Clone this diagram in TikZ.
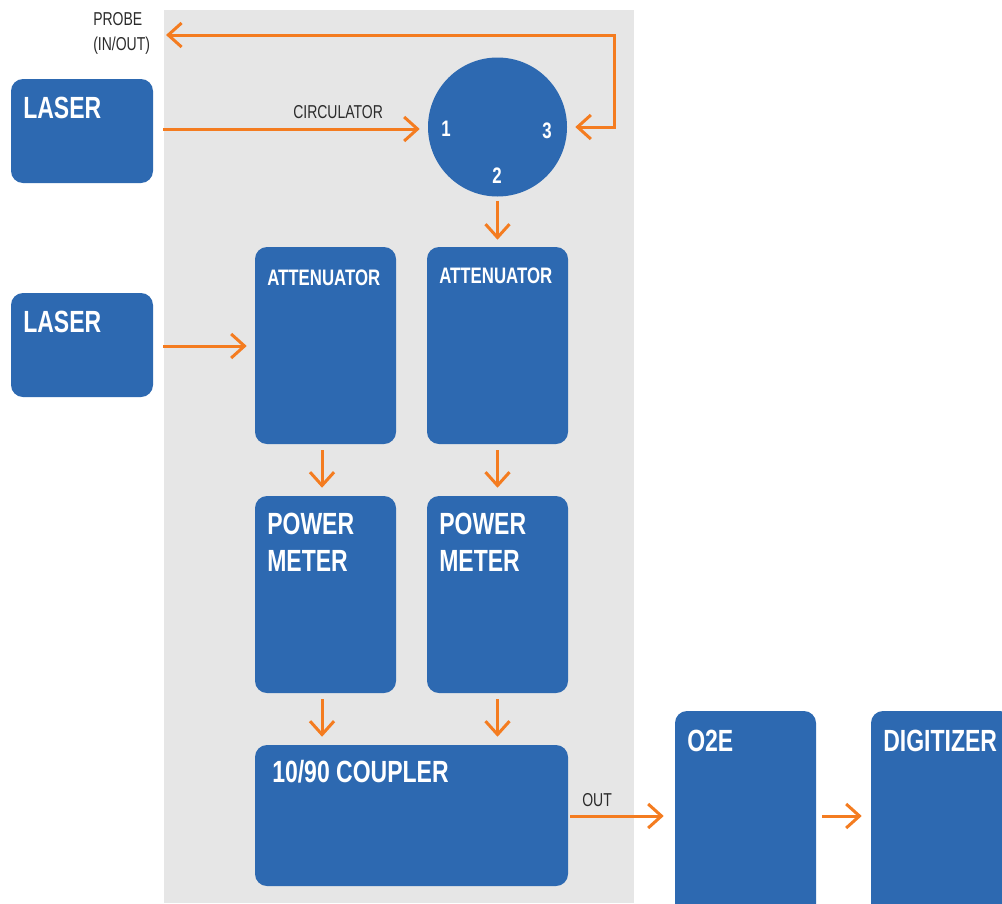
\documentclass[tikz,border=0pt]{standalone}
\usepackage{fontspec}
\setmainfont[FakeStretch=0.75]{Liberation Sans}
\usetikzlibrary{arrows.meta}
\definecolor{bblue}{HTML}{2D69B1}
\definecolor{borange}{HTML}{F47C20}
\definecolor{bgray}{HTML}{E6E6E6}
\definecolor{ltext}{HTML}{2B2B2B}
\tikzset{
  box/.style={fill=bblue, draw=none, rounded corners=9pt, inner sep=0pt, minimum width=105.75pt, minimum height=147.75pt},
  circbox/.style={circle, fill=bblue, draw=none, inner sep=0pt, minimum size=104.25pt},
  btxt/.style={anchor=base west, inner sep=0pt, text=white, font=\bfseries\fontsize{23}{27}\selectfont},
  stxt/.style={anchor=base west, inner sep=0pt, text=white, font=\bfseries\fontsize{16.8}{20}\selectfont},
  ltxt/.style={anchor=base west, inner sep=0pt, text=ltext, font=\fontsize{14}{17}\selectfont},
  arr/.style={draw=borange, line width=2.25pt, -{Straight Barb[length=10pt,width=18pt]}},
}
\begin{document}
\begin{tikzpicture}[x=0.75pt,y=-0.75pt]
\clip (0,0) rectangle (1002,903);
\fill[white] (0,0) rectangle (1002,903);
\fill[bgray] (164,10) rectangle (634,903);
% boxes
\node[box, minimum width=106.5pt, minimum height=78pt] (laser1) at (82,131) {};
\node[box, minimum width=106.5pt, minimum height=78pt] (laser2) at (82,345) {};
\node[circbox] (circ) at (497.5,127) {};
\node[box] (att1) at (325.5,345.5) {};
\node[box] (att2) at (497.5,345.5) {};
\node[box] (pm1) at (325.5,594.5) {};
\node[box] (pm2) at (497.5,594.5) {};
\node[box, minimum width=234.75pt, minimum height=105.75pt] (coup) at (411.5,815.5) {};
\node[box, minimum height=157.5pt] (o2e) at (745.5,816) {};
\node[box, minimum height=157.5pt] (dig) at (941.5,816) {};
% texts
\node[btxt] (tl1) at (23,118) {LASER};
\node[btxt] (tl2) at (23,332) {LASER};
\node[stxt] (ta1) at (267,285) {ATTENUATOR};
\node[stxt] (ta2) at (439,283) {ATTENUATOR};
\node[btxt] (tp1a) at (267,534) {POWER};
\node[btxt] (tp1b) at (267,571) {METER};
\node[btxt] (tp2a) at (439,534) {POWER};
\node[btxt] (tp2b) at (439,571) {METER};
\node[btxt] (tc) at (272,782) {10/90 COUPLER};
\node[btxt] (to) at (687,751) {O2E};
\node[btxt] (td) at (883,751) {DIGITIZER};
\node[stxt] (n1) at (441,136) {1};
\node[stxt] (n3) at (542,138) {3};
\node[stxt] (n2) at (492,183) {2};
\node[ltxt] (lp1) at (93,26) {PROBE};
\node[ltxt] (lp2) at (93,50) {(IN/OUT)};
\node[ltxt] (lc) at (293,118) {CIRCULATOR};
\node[ltxt] (lo) at (582,806) {OUT};
% connectors
\coordinate (probe) at (166,35);
\coordinate (pc) at (614,35);
\draw[arr, shorten <=7.5pt, shorten >=6pt] (laser1.east |- 0,129) -- (circ.west |- 0,129);
\draw[arr, {Straight Barb[length=10pt,width=18pt]}-{Straight Barb[length=10pt,width=18pt]}, shorten >=6pt] (probe) -- (pc) |- (circ.east);
\draw[arr, shorten <=3pt, shorten >=5.25pt] (circ.south) -- (att2.north);
\draw[arr, shorten <=7.5pt, shorten >=6pt] (laser2.east |- 0,346) -- (att1.west |- 0,346);
\draw[arr, shorten <=4.5pt, shorten >=6pt] ([xshift=-2.6pt]att1.south) -- ([xshift=-2.6pt]pm1.north);
\draw[arr, shorten <=4.5pt, shorten >=6pt] (att2.south) -- (pm2.north);
\draw[arr, shorten <=4.5pt, shorten >=6pt] ([xshift=-2.6pt]pm1.south) -- ([xshift=-2.6pt]pm1.south |- coup.north);
\draw[arr, shorten <=4.5pt, shorten >=6pt] (pm2.south) -- (pm2.south |- coup.north);
\draw[arr, shorten <=1.5pt, shorten >=8.25pt] (coup.east |- o2e.west) -- (o2e.west);
\draw[arr, shorten <=4.5pt, shorten >=6.75pt] (o2e.east) -- (dig.west);
\end{tikzpicture}
\end{document}
